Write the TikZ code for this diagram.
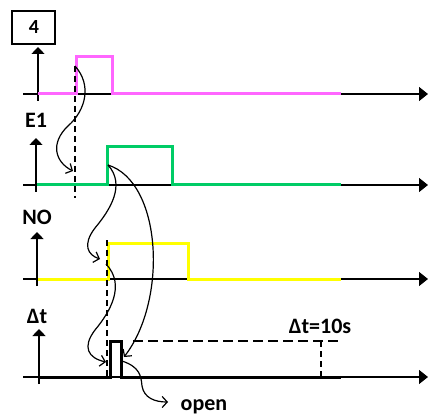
\documentclass[tikz,border=0pt]{standalone}
\usepackage{fontspec}
\setmainfont{Carlito}
\usetikzlibrary{arrows.meta}
\definecolor{sigpink}{HTML}{FF66FF}
\definecolor{siggreen}{HTML}{00CC66}
\definecolor{sigyellow}{HTML}{FFFF00}
\tikzset{
  axisline/.style={line width=1.4pt,-{Triangle[length=9pt,width=14pt]}},
  upaxis/.style={line width=1.4pt,-{Triangle[length=7pt,width=13pt]}},
  signal/.style={line width=3pt,line join=miter},
  causal/.style={line width=1.2pt,-{Straight Barb[length=5pt,width=11pt]}},
  guide/.style={line width=1.2pt,dash pattern=on 6pt off 4pt},
  guidewide/.style={line width=1.2pt,dash pattern=on 10pt off 5pt},
  lbl/.style={font=\bfseries\fontsize{22}{22}\selectfont,inner sep=0pt,anchor=base}
}
\begin{document}
\begin{tikzpicture}[x=1pt,y=-1pt]
\useasboundingbox (0,0) rectangle (430,419);
% box 4
\node[draw,line width=1.4pt,minimum width=43pt,minimum height=33pt,inner sep=0pt] (box) at (33.5,27.5) {};
\node[lbl,font=\bfseries\fontsize{20}{20}\selectfont] (four) at (34,34) {4};
% axes
\foreach \n/\y/\x/\t in {a/94/38/47, b/185/36/138, c/279/37/232, d/377/39/329}{
  \coordinate (\n L) at (23,\y);
  \coordinate (\n R) at (428,\y);
  \coordinate (\n B) at (\x,\y+7);
  \coordinate (\n T) at (\x,\t);
  \draw[axisline] (\n L) -- (\n R);
  \draw[upaxis] (\n B) -- (\n T);
}
% labels
\node[lbl] (lE) at (36,128) {E1};
\node[lbl] (lN) at (37,225) {NO};
\node[lbl] (lD) at (37,323) {Δt};
\node[lbl] (l10) at (320,333) {Δt=10s};
\node[lbl] (lopen) at (204,410) {open};
% signals
\draw[signal,sigpink] (38,94) -- (76,94) -- (76,57) -- (112,57) -- (112,94) -- (341,94);
\draw[signal,siggreen] (37,185) -- (107,185) -- (107,147) -- (172,147) -- (172,185) -- (341,185);
\draw[signal,sigyellow] (38,279) -- (108,279) -- (108,243) -- (188,243) -- (188,279) -- (341,279);
\draw[signal,black] (39,377) -- (110,377) -- (110,341) -- (121,341) -- (121,377) -- (341,377);
% guides
\coordinate (g1t) at (75,66);
\coordinate (g1b) at (75,198);
\draw[guide] (g1t) -- (g1b);
\coordinate (g2t) at (107,240);
\coordinate (g2b) at (107,377);
\draw[guide] (g2t) -- (g2b);
\coordinate (h1) at (133,341);
\coordinate (h2) at (342,341);
\draw[guidewide] (h1) -- (h2);
\coordinate (v1) at (321,341);
\coordinate (v2) at (321,377);
\draw[guide] (v1) -- (v2);
% causal arrows
\coordinate (pinkrise) at (75,66);
\coordinate (e1hit) at (73,171);
\coordinate (greenrise) at (108,165);
\coordinate (nohit) at (100,259);
\coordinate (norise) at (106,264);
\coordinate (pulseL) at (106,362);
\coordinate (pulseR) at (124,357);
\coordinate (openstart) at (122,361);
\coordinate (openend) at (168,402);
\draw[causal] (pinkrise) .. controls (92,85) and (86,110) .. (68,126) .. controls (50,143) and (55,162) .. (e1hit);
\draw[causal] (greenrise) .. controls (126,185) and (110,210) .. (95,228) .. controls (82,245) and (88,255) .. (nohit);
\draw[causal] (greenrise) .. controls (162,182) and (168,300) .. (pulseR);
\draw[causal] (norise) .. controls (126,285) and (110,312) .. (95,330) .. controls (82,347) and (88,358) .. (pulseL);
\draw[causal] (openstart) .. controls (140,367) and (141,376) .. (142,386) .. controls (144,398) and (155,402) .. (openend);
\end{tikzpicture}
\end{document}
